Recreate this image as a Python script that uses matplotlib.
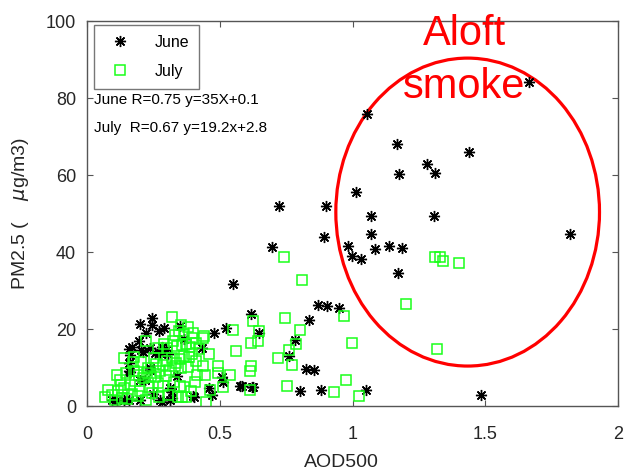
import matplotlib
matplotlib.use("Agg")
import matplotlib.pyplot as plt
from matplotlib.patches import Ellipse

plt.rcParams['font.family'] = ['Liberation Sans', 'DejaVu Sans']

# June: AOD500 vs PM2.5
june_aod = [
    1.665, 1.053, 1.166, 1.437, 1.281, 1.311, 1.176, 1.011, 0.900, 1.070,
    1.308, 1.817, 1.070, 0.893, 0.981, 1.136, 1.083, 1.185, 0.998, 1.033,
    1.171, 0.870, 0.903, 0.949, 1.485, 1.052,
    0.721, 0.697, 0.549, 0.616, 0.834, 0.649, 0.783, 0.761, 0.826, 0.856,
    0.583, 0.626, 0.801, 0.881, 0.576, 0.620,
    0.244, 0.200, 0.244, 0.291, 0.269, 0.222, 0.348, 0.478, 0.522, 0.365,
    0.196, 0.156, 0.162, 0.203, 0.275, 0.306, 0.432, 0.237, 0.158, 0.507,
    0.513, 0.313, 0.319, 0.281, 0.313, 0.400, 0.470, 0.247, 0.340, 0.457,
    0.093, 0.112, 0.137, 0.159, 0.200, 0.200, 0.275, 0.162, 0.159, 0.281,
    0.237, 0.298, 0.256, 0.212, 0.168, 0.237, 0.218, 0.403, 0.319,
]
june_pm = [
    84.2, 76.0, 68.0, 66.1, 62.8, 60.6, 60.3, 55.7, 52.1, 49.3,
    49.5, 44.8, 44.8, 44.0, 41.7, 41.7, 40.9, 41.0, 39.0, 38.1,
    34.5, 26.2, 26.1, 25.4, 3.0, 4.1,
    51.9, 41.2, 31.7, 23.8, 22.3, 19.0, 17.1, 13.1, 9.7, 9.5,
    5.2, 4.9, 4.0, 4.2, 5.2, 4.9,
    23.0, 21.3, 21.0, 20.4, 19.5, 18.9, 20.8, 18.9, 20.2, 17.3,
    17.0, 14.7, 13.2, 14.5, 13.7, 13.5, 15.0, 9.5, 9.1, 7.6,
    6.3, 4.6, 3.7, 1.1, 1.6, 2.6, 2.9, 3.1, 7.8, 4.6,
    1.7, 1.7, 1.7, 1.7, 1.7, 6.8, 1.6, 8.9, 11.2, 15.4,
    15.0, 14.5, 13.7, 14.1, 15.4, 9.8, 6.8, 2.3, 2.0,
]

# July: AOD500 vs PM2.5
july_aod = [
    1.311, 1.327, 1.341, 1.400, 1.199, 0.968, 0.996, 1.318, 0.974, 0.930,
    1.024,
    0.741, 0.809, 0.624, 0.745, 0.648, 0.802, 0.618, 0.645, 0.786, 0.762,
    0.718, 0.772, 0.618, 0.614, 0.752, 0.614, 0.549, 0.560,
    0.319, 0.353, 0.365, 0.394, 0.436, 0.222, 0.265, 0.300, 0.340, 0.356,
    0.371, 0.388, 0.410, 0.420, 0.440, 0.330, 0.345, 0.380, 0.400, 0.325,
    0.290,
    0.137, 0.177, 0.174, 0.202, 0.231, 0.225, 0.260, 0.285, 0.300, 0.320,
    0.335, 0.350, 0.365, 0.382, 0.395, 0.410, 0.438, 0.457, 0.494, 0.332,
    0.355, 0.378, 0.250, 0.275, 0.310,
    0.122, 0.080, 0.068, 0.095, 0.105, 0.118, 0.130, 0.140, 0.150, 0.160,
    0.170, 0.180, 0.190, 0.200, 0.210, 0.220, 0.232, 0.245, 0.255, 0.265,
    0.272, 0.285, 0.298, 0.305, 0.328, 0.350, 0.363, 0.344, 0.356, 0.371,
    0.447, 0.444, 0.494, 0.539, 0.511, 0.413, 0.407, 0.463, 0.390, 0.145,
    0.175, 0.195, 0.240, 0.112, 0.128,
]
july_pm = [
    38.6, 38.8, 37.6, 37.2, 26.5, 23.4, 16.4, 14.9, 6.7, 3.6,
    2.6,
    38.8, 32.8, 22.0, 22.9, 19.6, 19.7, 16.4, 17.0, 16.2, 14.5,
    12.5, 10.8, 10.5, 9.1, 5.3, 4.3, 19.7, 14.4,
    23.2, 21.0, 18.7, 17.6, 17.8, 17.0, 15.0, 15.2, 15.5, 15.8,
    16.2, 15.3, 16.5, 14.8, 18.2, 18.5, 19.6, 20.5, 19.0, 16.8,
    16.0,
    12.4, 12.8, 11.5, 11.5, 10.0, 8.5, 11.0, 10.6, 11.8, 12.5,
    11.2, 12.2, 13.0, 12.8, 13.4, 11.6, 10.4, 13.5, 10.4, 10.5,
    9.8, 10.2, 12.6, 9.0, 9.5,
    6.9, 4.3, 2.4, 3.0, 1.5, 3.8, 2.2, 4.8, 1.8, 5.6,
    3.2, 6.5, 2.5, 4.0, 7.2, 1.6, 5.0, 3.5, 7.5, 6.0,
    2.4, 5.2, 7.8, 3.0, 6.2, 5.2, 4.9, 2.3, 2.3, 2.3,
    1.1, 8.0, 8.5, 8.2, 4.9, 8.1, 6.3, 4.2, 4.0, 8.5,
    9.0, 8.0, 7.8, 8.0, 5.5,
]

fits = ["June R=0.75 y=35X+0.1", "July  R=0.67 y=19.2x+2.8"]

fig = plt.figure(figsize=(6.27, 4.70), dpi=100)
ax = fig.add_axes([0.139, 0.136, 0.847, 0.819])

# June first so the July squares sit on top in the dense cluster
ax.plot(june_aod, june_pm, linestyle='none', marker=(8, 2, 0), markersize=8,
        color='black', markeredgewidth=1.0, label='June')
ax.plot(july_aod, july_pm, linestyle='none', marker='s', markersize=7,
        markerfacecolor='none', markeredgecolor=(0.1, 1.0, 0.1),
        markeredgewidth=1.1, label='July')

ax.set_xlim(0, 2)
ax.set_ylim(0, 100)
ax.set_xticks([0, 0.5, 1, 1.5, 2])
ax.set_xticklabels(['0', '0.5', '1', '1.5', '2'])
ax.set_yticks([0, 20, 40, 60, 80, 100])

gray = '#262626'
for s in ax.spines.values():
    s.set_color('#555555')
    s.set_linewidth(1.0)
ax.tick_params(direction='in', length=4, width=0.8, top=True, right=True,
               labelsize=13, colors='#555555', labelcolor=gray, pad=8)
ax.tick_params(axis='x', pad=14)

ax.set_xlabel('AOD500', fontsize=14, color=gray)
ax.xaxis.set_label_coords(0.478, -0.125)
ax.set_ylabel('PM2.5 (    $\\mu$g/m3)', fontsize=14, color=gray)
ax.yaxis.set_label_coords(-0.105, 0.5)

leg = ax.legend(loc='upper left', bbox_to_anchor=(0.013, 0.99),
                fontsize=11.5, frameon=True, fancybox=False,
                edgecolor='#555555', borderpad=0.6, labelspacing=0.9,
                handletextpad=1.2, borderaxespad=0.0)
leg.get_frame().set_linewidth(1.0)

ax.text(0.013, 0.795, fits[0], transform=ax.transAxes, fontsize=11,
        va='center', ha='left')
ax.text(0.013, 0.722, fits[1], transform=ax.transAxes, fontsize=11,
        va='center', ha='left')

ax.add_patch(Ellipse((1.433, 50.4), 0.993, 80, fill=False, edgecolor='red',
                     linewidth=2.3, clip_on=False))
ax.text(1.420, 93.8, 'Aloft', color='red', fontsize=30, ha='center',
        va='baseline', clip_on=False)
ax.text(1.420, 80.0, 'smoke', color='red', fontsize=30, ha='center',
        va='baseline', clip_on=False)

fig.savefig('out.png', dpi=100)
